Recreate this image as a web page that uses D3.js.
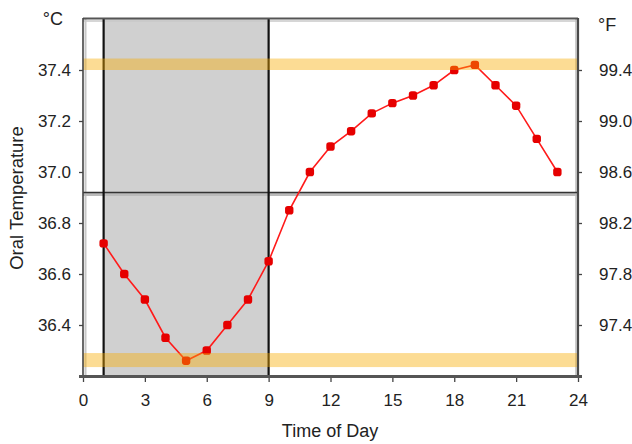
<!DOCTYPE html>
<html>
<head>
<meta charset="utf-8">
<script src="https://cdn.jsdelivr.net/npm/d3@7"></script>
<style>
  html, body { margin: 0; padding: 0; background: #fff; }
  svg { display: block; }
  text { font-family: "Liberation Sans", Arial, sans-serif; fill: #222; }
</style>
</head>
<body>
<svg id="chart" width="632" height="444"></svg>
<script>
// ---- data ----
const hours = [1,2,3,4,5,6,7,8,9,10,11,12,13,14,15,16,17,18,19,20,21,22,23];
const tempC = [36.72,36.60,36.50,36.35,36.26,36.30,36.40,36.50,36.65,36.85,37.00,37.10,37.16,37.23,37.27,37.30,37.34,37.40,37.42,37.34,37.26,37.13,37.00];
const xTicks = [0,3,6,9,12,15,18,21,24];
const cTicks = [36.4,36.6,36.8,37.0,37.2,37.4];
const fTicks = [97.4,97.8,98.2,98.6,99.0,99.4];
const nightSpan = [1, 9];            // shaded sleep period (hours)
const maxBand = [37.40, 37.445];     // highlight band at maximum (°C)
const minBand = [36.235, 36.29];     // highlight band at minimum (°C)
const dividerC = [36.92];            // horizontal divider line (°C)

// ---- layout ----
const svg = d3.select("#chart");
const L = 83, R = 578, T = 19, B = 376;
const x = d3.scaleLinear().domain([0, 24]).range([L, R]);
const y = d3.scaleLinear().domain([36.2, 37.6]).range([B, T]);
const yF = d3.scaleLinear().domain([97.0, 99.8]).range([B, T]);

// shaded night region
svg.append("rect")
  .attr("x", x(nightSpan[0])).attr("y", T)
  .attr("width", x(nightSpan[1]) - x(nightSpan[0])).attr("height", B - T)
  .attr("fill", "#d0d0d0");

// light inner strips
svg.append("line").attr("x1", L + 2.5).attr("x2", L + 2.5).attr("y1", T).attr("y2", B)
  .attr("stroke", "#c8c8c8").attr("stroke-width", 2);
svg.append("line").attr("x1", L).attr("x2", R).attr("y1", T + 2).attr("y2", T + 2)
  .attr("stroke", "#c8c8c8").attr("stroke-width", 1.5);
svg.append("line").attr("x1", R - 2).attr("x2", R - 2).attr("y1", T).attr("y2", B)
  .attr("stroke", "#bdbdbd").attr("stroke-width", 1.5);

// divider
const yd = y(dividerC[0]);
svg.append("line").attr("x1", L).attr("x2", R).attr("y1", yd + 2).attr("y2", yd + 2)
  .attr("stroke", "#bbbbbb").attr("stroke-width", 3);
svg.append("line").attr("x1", L).attr("x2", R).attr("y1", yd).attr("y2", yd)
  .attr("stroke", "#333", ).attr("stroke-width", 1.5);

// night boundaries
svg.selectAll("line.night").data(nightSpan).enter().append("line")
  .attr("class", "night")
  .attr("x1", d => x(d)).attr("x2", d => x(d)).attr("y1", T).attr("y2", B)
  .attr("stroke", "#111").attr("stroke-width", 2.2);

// data line and markers
const line = d3.line().x((d, i) => x(hours[i])).y(d => y(d));
svg.append("path").datum(tempC)
  .attr("d", line).attr("fill", "none")
  .attr("stroke", "#ff1a1a").attr("stroke-width", 1.6);
svg.selectAll("rect.pt").data(tempC).enter().append("rect")
  .attr("class", "pt")
  .attr("x", (d, i) => x(hours[i]) - 4.2).attr("y", d => y(d) - 4.2)
  .attr("width", 8.4).attr("height", 8.4).attr("rx", 2.8)
  .attr("fill", "#e60000");

// highlight bands (semi-transparent, on top)
[maxBand, minBand].forEach(b => {
  svg.append("rect")
    .attr("x", L).attr("width", R - L)
    .attr("y", y(b[1])).attr("height", y(b[0]) - y(b[1]))
    .attr("fill", "rgb(247,172,0)").attr("fill-opacity", 0.42);
});

// frame
svg.append("line").attr("x1", L).attr("x2", R).attr("y1", T - 0.5).attr("y2", T - 0.5)
  .attr("stroke", "#555").attr("stroke-width", 2);
svg.append("line").attr("x1", L).attr("x2", L).attr("y1", T - 1).attr("y2", B + 2)
  .attr("stroke", "#444").attr("stroke-width", 1.6);
svg.append("line").attr("x1", R).attr("x2", R).attr("y1", T - 1).attr("y2", B + 2)
  .attr("stroke", "#4a4a4a").attr("stroke-width", 2.2);
svg.append("line").attr("x1", L - 4).attr("x2", R + 4).attr("y1", B + 0.5).attr("y2", B + 0.5)
  .attr("stroke", "#555").attr("stroke-width", 3);

// axes
function styleAxis(g) {
  g.select(".domain").remove();
  g.selectAll(".tick line").attr("stroke", "#444").attr("stroke-width", 1.3);
  g.selectAll(".tick text").attr("fill", "#2a2a2a")
    .style("font-family", '"Liberation Sans", Arial, sans-serif').style("font-size", "17px");
}
svg.append("g").attr("transform", `translate(${L},0)`)
  .call(d3.axisLeft(y).tickValues(cTicks).tickFormat(d3.format(".1f")).tickSize(4).tickPadding(8))
  .call(styleAxis);
svg.append("g").attr("transform", `translate(${R},0)`)
  .call(d3.axisRight(yF).tickValues(fTicks).tickFormat(d3.format(".1f")).tickSize(4).tickPadding(17))
  .call(styleAxis);
svg.append("g").attr("transform", `translate(0,${B + 2})`)
  .call(d3.axisBottom(x).tickValues(xTicks).tickSize(4).tickPadding(12))
  .call(styleAxis);

// titles
svg.append("text").attr("x", 63).attr("y", 25).attr("text-anchor", "end")
  .style("font-size", "18px").text("°C");
svg.append("text").attr("x", 598).attr("y", 31)
  .style("font-size", "18px").text("°F");
svg.append("text").attr("x", 330).attr("y", 437).attr("text-anchor", "middle")
  .style("font-size", "18px").text("Time of Day");
svg.append("text").attr("transform", "translate(23,198) rotate(-90)")
  .attr("text-anchor", "middle").style("font-size", "18.5px").text("Oral Temperature");
</script>
</body>
</html>
